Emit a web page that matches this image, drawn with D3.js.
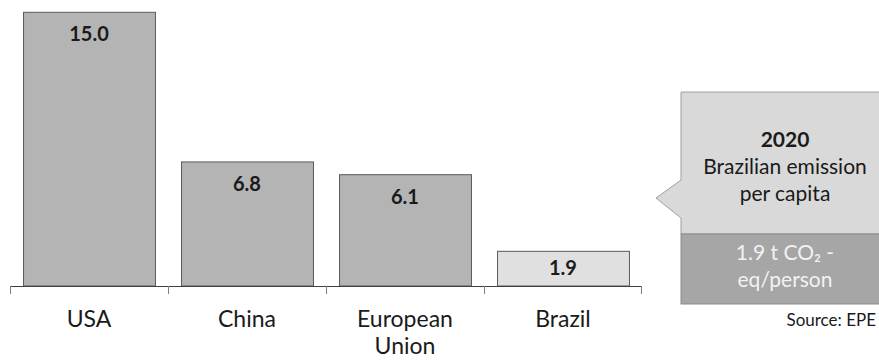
<!DOCTYPE html>
<html>
<head>
<meta charset="utf-8">
<script src="https://cdn.jsdelivr.net/npm/d3@7"></script>
<style>
  html, body { margin: 0; padding: 0; background: #fff; }
  svg { display: block; font-family: Lato, "Open Sans", sans-serif; }
</style>
</head>
<body>
<svg id="chart" width="879" height="360"></svg>
<script>
// Per-capita emissions, t CO2-eq/person
const countries = ["USA", "China", "European Union", "Brazil"];
const emissions = [15.0, 6.8, 6.1, 1.9];
const highlight = "Brazil";

// Callout text
const calloutTitle = ["2020", "Brazilian emission", "per capita"];
const calloutValue = ["1.9 t CO\u2082 -", "eq/person"];
const sourceNote = "Source: EPE";

const svg = d3.select("#chart");
const baseY = 286;

const x = d3.scaleBand()
  .domain(countries)
  .range([10, 642])
  .paddingInner(0.165)
  .paddingOuter(0.0825);

const y = d3.scaleLinear()
  .domain([0, 15])
  .range([baseY, 12.3]);

const data = countries.map((c, i) => ({ name: c, value: emissions[i] }));

// Bars
svg.append("g").selectAll("rect")
  .data(data)
  .join("rect")
  .attr("x", d => x(d.name) + 0.5)
  .attr("y", d => y(d.value))
  .attr("width", x.bandwidth())
  .attr("height", d => baseY - y(d.value))
  .attr("fill", d => d.name === highlight ? "#e0e0e0" : "#b4b4b4")
  .attr("stroke", "#5a5a5a")
  .attr("stroke-width", 1);

// Value labels, near the top of each bar (centred on short bars)
svg.append("g").selectAll("text")
  .data(data)
  .join("text")
  .attr("x", d => x(d.name) + x.bandwidth() / 2)
  .attr("y", d => Math.min(y(d.value) + 29, (y(d.value) + baseY) / 2 + 6))
  .attr("text-anchor", "middle")
  .attr("font-size", 20)
  .attr("font-weight", 700)
  .attr("fill", "#1a1a1a")
  .text(d => d3.format(".1f")(d.value));

// Category axis with ticks at band boundaries
const axisG = svg.append("g");
axisG.append("line")
  .attr("x1", 10).attr("x2", 641)
  .attr("y1", baseY + 0.5).attr("y2", baseY + 0.5)
  .attr("stroke", "#3f3f3f").attr("stroke-width", 1.2);

const edges = countries.map(c => x(c) - x.step() * x.paddingInner() / 2);
edges.push(x.range()[1] - 1);
edges[0] = x.range()[0];
axisG.selectAll("line.tick")
  .data(edges)
  .join("line")
  .attr("class", "tick")
  .attr("x1", d => Math.round(d) + 0.5).attr("x2", d => Math.round(d) + 0.5)
  .attr("y1", baseY).attr("y2", baseY + 8)
  .attr("stroke", "#7f7f7f").attr("stroke-width", 1);

// Category labels (wrapped onto two lines where needed)
const catLabels = axisG.selectAll("text.cat")
  .data(countries)
  .join("text")
  .attr("class", "cat")
  .attr("x", d => x(d) + x.bandwidth() / 2)
  .attr("y", 327)
  .attr("text-anchor", "middle")
  .attr("font-size", 23)
  .attr("fill", "#1a1a1a");
catLabels.each(function (d) {
  const words = d.split(" ");
  const t = d3.select(this);
  words.forEach((w, i) => {
    t.append("tspan")
      .attr("x", x(d) + x.bandwidth() / 2)
      .attr("dy", i === 0 ? 0 : 27)
      .text(w);
  });
});

// Callout box pointing towards the chart
const box = { left: 681, right: 890, top: 92, split: 234, bottom: 304 };
const tip = { x: 656, y: 198, upper: 180, lower: 218 };
const callout = svg.append("g");

callout.append("path")
  .attr("d", `M${box.left},${box.top} L${box.right},${box.top} L${box.right},${box.split}` +
             ` L${box.left},${box.split} L${box.left},${tip.lower} L${tip.x},${tip.y}` +
             ` L${box.left},${tip.upper} Z`)
  .attr("fill", "#d9d9d9")
  .attr("stroke", "#a0a0a0")
  .attr("stroke-width", 1);

callout.append("rect")
  .attr("x", box.left).attr("y", box.split)
  .attr("width", box.right - box.left).attr("height", box.bottom - box.split)
  .attr("fill", "#a6a6a6")
  .attr("stroke", "#8c8c8c")
  .attr("stroke-width", 1);

const cx = 785;
callout.selectAll("text.title")
  .data(calloutTitle)
  .join("text")
  .attr("class", "title")
  .attr("x", cx)
  .attr("y", (d, i) => 147 + i * 27)
  .attr("text-anchor", "middle")
  .attr("font-size", 21)
  .attr("font-weight", (d, i) => i === 0 ? 700 : 400)
  .attr("fill", "#1a1a1a")
  .text(d => d);

callout.selectAll("text.value")
  .data(calloutValue)
  .join("text")
  .attr("class", "value")
  .attr("x", cx)
  .attr("y", (d, i) => 260 + i * 27)
  .attr("text-anchor", "middle")
  .attr("font-size", 21)
  .attr("fill", "#f2f2f2")
  .text(d => d);

// Source note
svg.append("text")
  .attr("x", 876)
  .attr("y", 326)
  .attr("text-anchor", "end")
  .attr("font-size", 17)
  .attr("fill", "#1a1a1a")
  .text(sourceNote);
</script>
</body>
</html>
